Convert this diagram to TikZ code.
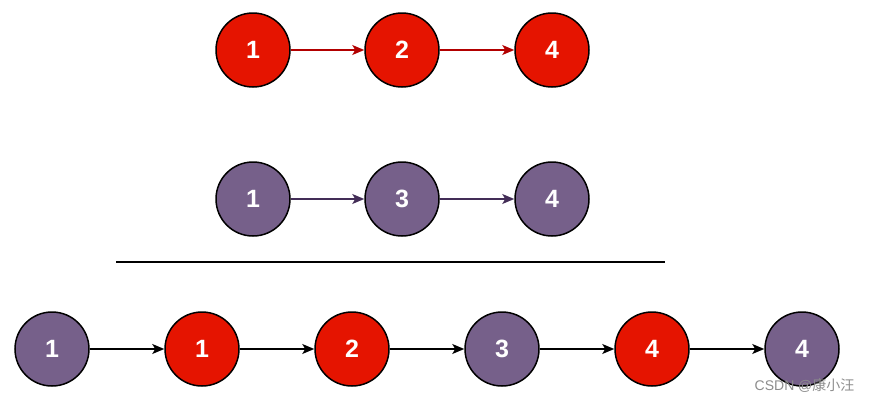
\documentclass[tikz,border=0pt]{standalone}
\usepackage{fontspec}
\setmainfont{Liberation Sans}
\newfontfamily\cjkfont{Noto Sans CJK SC}
\usepackage{tikz}
\usetikzlibrary{arrows.meta}

\definecolor{redfill}{HTML}{E51400}
\definecolor{redline}{HTML}{B20000}
\definecolor{purplefill}{HTML}{76608A}
\definecolor{purpleline}{HTML}{432D57}

\begin{document}
\begin{tikzpicture}[>={Stealth[length=12pt,width=10pt,inset=3pt]}, x=1pt, y=-1pt,
	listnode/.style={circle, draw=black, line width=1.5pt, minimum size=74pt, inner sep=0pt,
		text=white, font=\fontsize{25}{30}\selectfont\bfseries},
	rednode/.style={listnode, fill=redfill},
	purplenode/.style={listnode, fill=purplefill},
	link/.style={->, line width=1.3pt}]
		\useasboundingbox (0,0) rectangle (871,402);
		%			\draw [help lines] (0,0) grid (871,402);
		% first list
		\node [rednode] (a1) at (253,50) {1};
		\node [rednode] (a2) at (402,50) {2};
		\node [rednode] (a4) at (552,50) {4};
		\draw [link, redline] (a1) -- (a2);
		\draw [link, redline] (a2) -- (a4);
		% second list
		\node [purplenode] (b1) at (253,199) {1};
		\node [purplenode] (b3) at (402,199) {3};
		\node [purplenode] (b4) at (552,199) {4};
		\draw [link, purpleline] (b1) -- (b3);
		\draw [link, purpleline] (b3) -- (b4);
		% separator
		\coordinate (sepl) at (116,262);
		\coordinate (sepr) at (665,262);
		\draw [line width=2pt] (sepl) -- (sepr);
		% merged list
		\node [purplenode] (m1) at (52,349) {1};
		\node [rednode] (m2) at (202,349) {1};
		\node [rednode] (m3) at (352,349) {2};
		\node [purplenode] (m4) at (502,349) {3};
		\node [rednode] (m5) at (652,349) {4};
		\node [purplenode] (m6) at (802,349) {4};
		\draw [link] (m1) -- (m2);
		\draw [link] (m2) -- (m3);
		\draw [link] (m3) -- (m4);
		\draw [link] (m4) -- (m5);
		\draw [link] (m5) -- (m6);
		\node [text=black!45, font=\fontsize{14}{16}\selectfont, anchor=east] (mark) at (858,386) {CSDN @{\cjkfont 康小汪}};
	\end{tikzpicture}
\end{document}
